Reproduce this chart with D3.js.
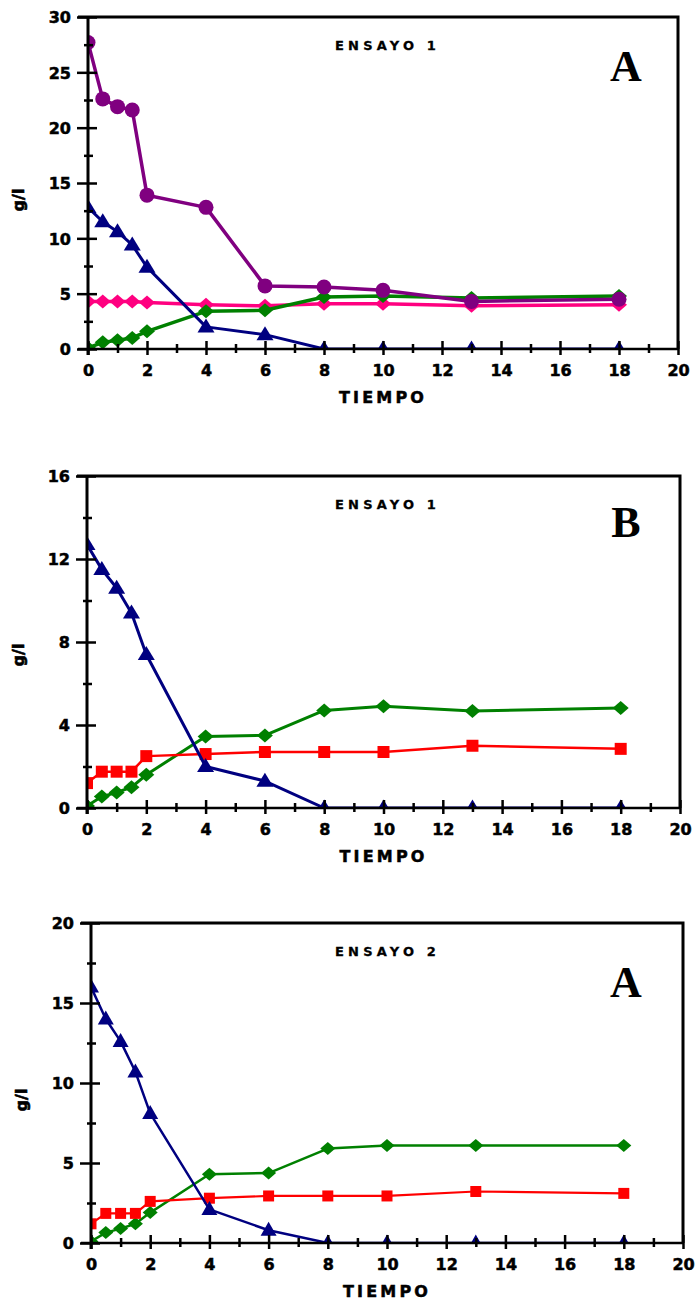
<!DOCTYPE html>
<html>
<head>
<meta charset="utf-8">
<script src="https://cdn.jsdelivr.net/npm/d3@7"></script>
<style>
  body { margin: 0; background: #fff; }
  svg { display: block; }
  .tick text { font-family: "DejaVu Sans", sans-serif; font-weight: bold; font-size: 16px; fill: #000; stroke: #000; stroke-width: 0.5px; }
</style>
</head>
<body>
<svg id="chart" width="696" height="1300"></svg>
<script>
// Sampling times (h)
const tiempo = [0, 0.5, 1, 1.5, 2, 4, 6, 8, 10, 13, 18];

// Ensayo 1 – panel A
const e1aCirculos  = [27.7, 22.6, 21.9, 21.6, 13.9, 12.8, 5.7, 5.6, 5.3, 4.3, 4.5];
const e1aTriangulos = [12.8, 11.5, 10.6, 9.4, 7.4, 2.0, 1.3, 0, 0, 0, 0];
const e1aRosa      = [4.3, 4.3, 4.3, 4.3, 4.2, 4.0, 3.9, 4.1, 4.1, 3.9, 4.0];
const e1aVerde     = [0.1, 0.6, 0.8, 1.0, 1.6, 3.4, 3.5, 4.7, 4.8, 4.6, 4.8];

// Ensayo 1 – panel B
const e1bTriangulos = [12.7, 11.5, 10.6, 9.4, 7.4, 2.0, 1.3, 0, 0, 0, 0];
const e1bVerde      = [0.1, 0.55, 0.75, 1.0, 1.6, 3.45, 3.5, 4.7, 4.9, 4.67, 4.82];
const e1bRojo       = [1.2, 1.75, 1.75, 1.75, 2.5, 2.6, 2.7, 2.7, 2.7, 3.0, 2.85];

// Ensayo 2 – panel A
const e2aTriangulos = [16.0, 14.0, 12.6, 10.7, 8.1, 2.1, 0.8, 0, 0, 0, 0];
const e2aVerde      = [0.1, 0.65, 0.9, 1.2, 1.9, 4.3, 4.37, 5.9, 6.1, 6.1, 6.1];
const e2aRojo       = [1.2, 1.85, 1.85, 1.85, 2.6, 2.8, 2.94, 2.94, 2.94, 3.22, 3.1];

// Axis ticks
const xMajor = [0, 2, 4, 6, 8, 10, 12, 14, 16, 18, 20];
const xMinor = [1, 3, 5, 7, 9, 11, 13, 15, 17, 19];

const colors = {
  purple: "#800080",
  navy: "#000080",
  pink: "#ff0080",
  green: "#008000",
  red: "#ff0000"
};

// Rotated-square marker with independent width/height
function diamondType(w, h) {
  return {
    draw(ctx) {
      ctx.moveTo(0, -h / 2);
      ctx.lineTo(w / 2, 0);
      ctx.lineTo(0, h / 2);
      ctx.lineTo(-w / 2, 0);
      ctx.closePath();
    }
  };
}
function triangleType(w, h) {
  return {
    draw(ctx) {
      ctx.moveTo(0, -h * 0.6);
      ctx.lineTo(w / 2, h * 0.4);
      ctx.lineTo(-w / 2, h * 0.4);
      ctx.closePath();
    }
  };
}
function squareType(s) {
  return {
    draw(ctx) { ctx.rect(-s / 2, -s / 2, s, s); }
  };
}
function circleType(r) {
  return { draw(ctx) { ctx.moveTo(r, 0); ctx.arc(0, 0, r, 0, 2 * Math.PI); } };
}

const svg = d3.select("#chart");
const defs = svg.append("defs");
let panelCount = 0;

function panel(cfg) {
  const id = "plot-clip-" + (panelCount++);
  const g = svg.append("g");
  const x = d3.scaleLinear().domain([0, 20]).range([cfg.left, cfg.right]);
  const y = d3.scaleLinear().domain([0, cfg.yMax]).range([cfg.bottom, cfg.top]);

  defs.append("clipPath").attr("id", id)
    .append("rect")
    .attr("x", cfg.left).attr("y", cfg.top)
    .attr("width", cfg.right - cfg.left).attr("height", cfg.bottom - cfg.top);

  // series, clipped to the plotting area
  const plot = g.append("g").attr("clip-path", `url(#${id})`);
  const line = d3.line().x((d, i) => x(tiempo[i])).y(d => y(d));
  cfg.series.forEach(s => {
    plot.append("path").datum(s.values)
      .attr("d", line)
      .attr("fill", "none").attr("stroke", s.color)
      .attr("stroke-width", s.width).attr("stroke-linejoin", "round");
    plot.selectAll(null).data(s.values).join("path")
      .attr("transform", (d, i) => `translate(${x(tiempo[i])},${y(d)})`)
      .attr("d", d3.symbol().type(s.symbol)())
      .attr("fill", s.color);
  });

  // frame: top and right edges
  g.append("path")
    .attr("d", `M${cfg.left - 10},${cfg.top}H${cfg.right}V${cfg.bottom}`)
    .attr("fill", "none").attr("stroke", "#000").attr("stroke-width", 3);

  // x axis – major ticks crossing the line
  const gx = g.append("g").attr("transform", `translate(0,${cfg.bottom})`)
    .call(d3.axisBottom(x).tickValues(xMajor).tickSize(6).tickPadding(6).tickFormat(d3.format("d")));
  gx.select(".domain").attr("stroke-width", 2.5).attr("d", `M${cfg.left - 10},0H${cfg.right}`);
  gx.selectAll(".tick line").attr("y1", -8).attr("stroke-width", 2.5);
  gx.selectAll(".tick text").attr("dy", "0.95em");

  const gxm = g.append("g").attr("transform", `translate(0,${cfg.bottom})`)
    .call(d3.axisBottom(x).tickValues(xMinor).tickSize(4).tickFormat(""));
  gxm.select(".domain").remove();
  gxm.selectAll(".tick line").attr("y1", -5).attr("stroke-width", 2.5);

  // y axis
  const gy = g.append("g").attr("transform", `translate(${cfg.left},0)`)
    .call(d3.axisLeft(y).tickValues(cfg.yMajor).tickSize(11).tickPadding(6).tickFormat(d3.format("d")));
  gy.select(".domain").attr("stroke-width", 3).attr("d", `M0,${cfg.top}V${cfg.bottom + 6}`);
  gy.selectAll(".tick line").attr("x2", -11).attr("x1", 9).attr("stroke-width", 2.5);
  gy.selectAll(".tick text").attr("dy", "0.36em");

  const gym = g.append("g").attr("transform", `translate(${cfg.left},0)`)
    .call(d3.axisLeft(y).tickValues(cfg.yMinor).tickSize(4).tickFormat(""));
  gym.select(".domain").remove();
  gym.selectAll(".tick line").attr("x1", 5).attr("stroke-width", 2.5);

  // axis titles
  g.append("text")
    .attr("x", (cfg.left + cfg.right) / 2).attr("y", cfg.bottom + 54)
    .attr("text-anchor", "middle")
    .attr("font-family", "DejaVu Sans, sans-serif").attr("font-weight", "bold")
    .attr("font-size", 16).attr("letter-spacing", 3.2)
    .attr("stroke", "#000").attr("stroke-width", 0.5)
    .text("TIEMPO");

  g.append("text")
    .attr("transform", `translate(${cfg.ylabX},${cfg.ylabY}) rotate(-90)`)
    .attr("text-anchor", "middle")
    .attr("font-family", "DejaVu Sans, sans-serif").attr("font-weight", "bold")
    .attr("font-size", 16)
    .attr("stroke", "#000").attr("stroke-width", 0.6)
    .text("g/l");

  g.append("text")
    .attr("x", 335).attr("y", cfg.top + 33)
    .attr("font-family", "DejaVu Sans, sans-serif").attr("font-weight", "bold")
    .attr("font-size", 13).attr("letter-spacing", 4.2)
    .attr("stroke", "#000").attr("stroke-width", 0.3)
    .text(cfg.title);

  g.append("text")
    .attr("x", 626).attr("y", cfg.top + cfg.letterDy)
    .attr("text-anchor", "middle")
    .attr("font-family", "Liberation Serif, serif").attr("font-weight", "bold")
    .attr("font-size", 44)
    .text(cfg.letter);
}

panel({
  left: 88, right: 678, top: 17, bottom: 349,
  yMax: 30, yMajor: [0, 5, 10, 15, 20, 25, 30], yMinor: [2.5, 7.5, 12.5, 17.5, 22.5, 27.5],
  ylabX: 24, ylabY: 200,
  title: "ENSAYO 1", letter: "A", letterDy: 64,
  series: [
    { values: e1aRosa, color: colors.pink, width: 3.5, symbol: diamondType(16, 14) },
    { values: e1aVerde, color: colors.green, width: 3.5, symbol: diamondType(16, 14) },
    { values: e1aCirculos, color: colors.purple, width: 3.5, symbol: circleType(7.5) },
    { values: e1aTriangulos, color: colors.navy, width: 3, symbol: triangleType(17, 14) }
  ]
});

panel({
  left: 87, right: 680, top: 476, bottom: 808,
  yMax: 16, yMajor: [0, 4, 8, 12, 16], yMinor: [2, 6, 10, 14],
  ylabX: 24, ylabY: 655,
  title: "ENSAYO 1", letter: "B", letterDy: 61,
  series: [
    { values: e1bVerde, color: colors.green, width: 3, symbol: diamondType(16, 14) },
    { values: e1bRojo, color: colors.red, width: 2.5, symbol: squareType(12) },
    { values: e1bTriangulos, color: colors.navy, width: 3, symbol: triangleType(17, 14) }
  ]
});

panel({
  left: 91, right: 683, top: 923, bottom: 1243,
  yMax: 20, yMajor: [0, 5, 10, 15, 20], yMinor: [2.5, 7.5, 12.5, 17.5],
  ylabX: 27, ylabY: 1100,
  title: "ENSAYO 2", letter: "A", letterDy: 74,
  series: [
    { values: e2aVerde, color: colors.green, width: 2.5, symbol: diamondType(15, 13) },
    { values: e2aRojo, color: colors.red, width: 2.2, symbol: squareType(11) },
    { values: e2aTriangulos, color: colors.navy, width: 2.5, symbol: triangleType(16, 14) }
  ]
});
</script>
</body>
</html>
